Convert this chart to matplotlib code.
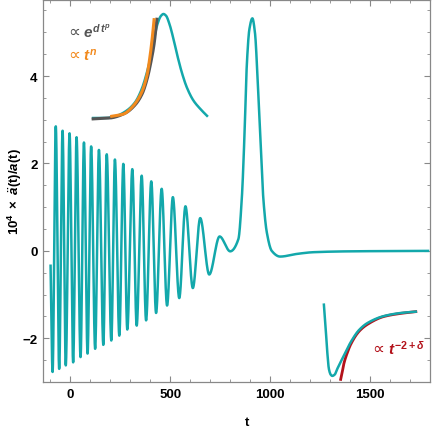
import numpy as np
import matplotlib
matplotlib.use("Agg")
import matplotlib.pyplot as plt
from matplotlib.ticker import MultipleLocator

# main curve: points (extremes plus points on the big peak)
t_main = [-99, -89, -73, -56, -39, -23, -4, 14, 31, 51, 68, 86, 104, 124, 143,
          165, 182, 205, 223, 245, 265, 285, 310, 332, 357, 379, 405, 429, 457,
          484, 513, 545, 576, 613, 650, 695, 747, 800, 841, 858, 872, 883, 896,
          911, 924, 938, 953, 966, 983, 1008, 1050, 1133, 1216, 1400, 1790]
v_main = [-0.34, -2.77, 2.85, -2.70, 2.75, -2.62, 2.69, -2.55, 2.60, -2.43, 2.48,
          -2.35, 2.39, -2.24, 2.31, -2.15, 2.21, -2.05, 2.09, -1.94, 1.99, -1.80,
          1.87, -1.71, 1.72, -1.59, 1.59, -1.42, 1.42, -1.25, 1.23, -1.08, 1.02,
          -0.85, 0.75, -0.54, 0.33, -0.01, 0.27, 1.19, 2.71, 4.24, 5.07, 5.32,
          4.99, 3.85, 2.33, 1.19, 0.43, 0.0, -0.13, -0.07, -0.03, -0.01, 0.0]

# upper inset (drawn in main axis units)
t_up = [114, 182, 232, 282, 324, 357, 383, 403, 419, 436, 454, 466, 479, 496,
        516, 536, 558, 583, 616, 650, 684]
v_up = [3.04, 3.04, 3.09, 3.21, 3.40, 3.70, 4.08, 4.46, 4.85, 5.19, 5.38, 5.42,
        5.38, 5.19, 4.85, 4.46, 4.08, 3.74, 3.44, 3.25, 3.09]
t_exp = [114, 198, 274, 324, 359, 384, 404, 419, 429, 433]
v_exp = [3.02, 3.04, 3.15, 3.34, 3.59, 3.93, 4.34, 4.73, 5.12, 5.30]
t_pow = [207, 265, 315, 357, 383, 399, 411, 419]
v_pow = [3.08, 3.13, 3.32, 3.63, 4.01, 4.46, 4.92, 5.29]

# lower inset
t_low = [1269, 1278, 1286, 1294, 1303, 1311, 1323, 1336, 1353, 1370, 1403, 1445,
         1487, 1570, 1654, 1729]
v_low = [-1.23, -1.78, -2.32, -2.70, -2.83, -2.86, -2.83, -2.70, -2.54, -2.39,
         -2.09, -1.81, -1.65, -1.49, -1.42, -1.39]
t_late = [1353, 1361, 1369, 1387, 1403, 1445, 1487, 1570, 1654, 1729]
v_late = [-2.94, -2.77, -2.58, -2.32, -2.14, -1.84, -1.68, -1.50, -1.43, -1.39]


def pchip(x, y, xn):
    # monotone cubic through the read points, just to draw a smooth line
    x = np.asarray(x, float)
    y = np.asarray(y, float)
    h = np.diff(x)
    d = np.diff(y) / h
    m = np.zeros_like(y)
    m[0], m[-1] = d[0], d[-1]
    for k in range(1, len(x) - 1):
        if d[k - 1] * d[k] > 0:
            w1 = 2 * h[k] + h[k - 1]
            w2 = h[k] + 2 * h[k - 1]
            m[k] = (w1 + w2) / (w1 / d[k - 1] + w2 / d[k])
    i = np.clip(np.searchsorted(x, xn) - 1, 0, len(x) - 2)
    s = (xn - x[i]) / h[i]
    h00 = 2 * s**3 - 3 * s**2 + 1
    h10 = s**3 - 2 * s**2 + s
    h01 = -2 * s**3 + 3 * s**2
    h11 = s**3 - s**2
    return h00 * y[i] + h10 * h[i] * m[i] + h01 * y[i + 1] + h11 * h[i] * m[i + 1]


def smooth(t, v, n=400):
    tt = np.linspace(t[0], t[-1], n)
    return tt, pchip(t, v, tt)


plt.rcParams['font.family'] = ['Liberation Sans', 'DejaVu Sans']
plt.rcParams['font.weight'] = 'bold'
plt.rcParams['mathtext.fontset'] = 'custom'
plt.rcParams['mathtext.rm'] = 'Liberation Sans:bold'
plt.rcParams['mathtext.it'] = 'Liberation Sans:bold:italic'
plt.rcParams['mathtext.bf'] = 'Liberation Sans:bold'

teal = '#13a8ab'
orange = '#f28a1e'
gray = '#555555'
red = '#b3121b'

fig = plt.figure(figsize=(4.36, 4.35), dpi=100)
ax = fig.add_axes([0.0986, 0.1195, 0.8876, 0.8782])

tt, vv = smooth(t_main, v_main, 6000)
ax.plot(tt, vv, color=teal, lw=1.8, zorder=3)

tt, vv = smooth(t_up, v_up)
ax.plot(tt, vv, color=teal, lw=1.8, zorder=3)
tt, vv = smooth(t_exp, v_exp)
ax.plot(tt, vv, color=gray, lw=2.2, zorder=4)
tt, vv = smooth(t_pow, v_pow)
ax.plot(tt, vv, color=orange, lw=2.2, zorder=5)

tt, vv = smooth(t_late, v_late)
ax.plot(tt, vv, color=red, lw=2.0, zorder=3)
tt, vv = smooth(t_low, v_low)
ax.plot(tt, vv, color=teal, lw=1.8, zorder=4)

# fit labels: the proportional sign as plain text, the power law in mathtext
labels = [(-12, 5.03, r'$e^{d\,t^p}$', gray),
          (-12, 4.50, r'$t^n$', orange),
          (1512, -2.22, r'$t^{-2+\delta}$', red)]
for x0, y0, s, c in labels:
    ax.text(x0, y0, '∝', color=c, fontsize=12, va='center',
            family='DejaVu Sans', fontweight='normal')
    ax.annotate(s, xy=(x0, y0), xytext=(11, 0), textcoords='offset points',
                color=c, fontsize=11, va='center')

ax.set_xlim(-137, 1800)
ax.set_ylim(-3.0, 5.74)
ax.xaxis.set_major_locator(MultipleLocator(500))
ax.xaxis.set_minor_locator(MultipleLocator(100))
ax.yaxis.set_major_locator(MultipleLocator(2))
ax.yaxis.set_minor_locator(MultipleLocator(0.5))
ax.tick_params(which='both', direction='in', top=True, right=True,
               color='#888888', labelsize=9.5, pad=4)
ax.tick_params(which='major', length=4, width=0.8)
ax.tick_params(which='minor', length=2.5, width=0.6)
for s in ax.spines.values():
    s.set_color('#888888')
    s.set_linewidth(0.9)

ax.set_xlabel('t', fontsize=9.5, fontweight='bold')
ax.set_ylabel(r'$10^4\ \times\ \ddot{a}\mathrm{(t)}/a\mathrm{(t)}$', fontsize=9.5)
ax.xaxis.set_label_coords(0.527, -0.09)
ax.yaxis.set_label_coords(-0.05, 0.5)

fig.savefig('out.png', dpi=100)
